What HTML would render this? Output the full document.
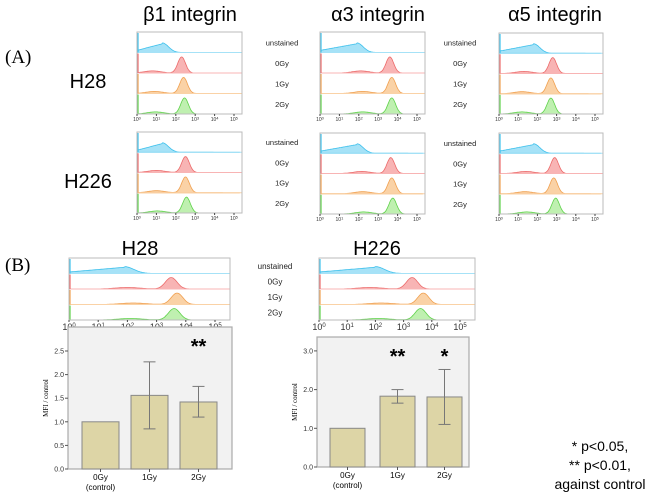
<!DOCTYPE html>
<html><head><meta charset="utf-8"><style>
body{margin:0;background:#fff;}
svg{display:block;font-family:"Liberation Sans",sans-serif;}
</style></head><body>
<svg id="fig" width="650" height="499" viewBox="0 0 650 499" xmlns="http://www.w3.org/2000/svg">
<text x="5" y="63" font-family="Liberation Serif,serif" font-size="19">(A)</text>
<text x="5" y="271" font-family="Liberation Serif,serif" font-size="19">(B)</text>
<text x="190" y="21" font-size="20" text-anchor="middle">β1 integrin</text>
<text x="378" y="21" font-size="20" text-anchor="middle">α3 integrin</text>
<text x="555" y="21" font-size="20" text-anchor="middle">α5 integrin</text>
<text x="88" y="88" font-size="20" text-anchor="middle">H28</text>
<text x="88" y="188" font-size="20" text-anchor="middle">H226</text>
<text x="140" y="255" font-size="20" text-anchor="middle">H28</text>
<text x="377" y="255" font-size="20" text-anchor="middle">H226</text>
<g font-size="14" text-anchor="middle">
<text x="600" y="451">* p&lt;0.05,</text>
<text x="600" y="470">** p&lt;0.01,</text>
<text x="600" y="489">against control</text>
</g>
<g id="dyn"></g>
</svg>
<script>
// Histogram peak positions (log decades) per row: unstained, 0Gy, 1Gy, 2Gy
const rowLabels = ["unstained","0Gy","1Gy","2Gy"];
const b1H28Peaks = [1.3, 2.3, 2.4, 2.45];
const b1H226Peaks = [1.3, 2.5, 2.5, 2.55];
const a3H28Peaks = [1.9, 3.6, 3.7, 3.7];
const a3H226Peaks = [1.9, 3.65, 3.7, 3.75];
const a5H28Peaks = [1.8, 2.8, 2.7, 2.7];
const a5H226Peaks = [1.8, 2.9, 2.85, 2.95];
const bH28Peaks = [1.9, 3.5, 3.7, 3.6];
const bH226Peaks = [2.0, 3.3, 3.7, 3.6];
// Bar charts
const barCats = ["0Gy","1Gy","2Gy"];
const h28Means = [1.0, 1.56, 1.42];
const h28Lo = [1.0, 0.85, 1.10];
const h28Hi = [1.0, 2.27, 1.75];
const h28Sig = ["", "", "**"];
const h28Ticks = [0,0.5,1.0,1.5,2.0,2.5];
const h226Means = [1.0, 1.83, 1.81];
const h226Lo = [1.0, 1.65, 1.10];
const h226Hi = [1.0, 2.00, 2.52];
const h226Sig = ["", "**", "*"];
const h226Ticks = [0,1.0,2.0,3.0];

const NS="http://www.w3.org/2000/svg";
const root=document.getElementById('dyn');
function mk(tag,attrs,parent){const e=document.createElementNS(NS,tag);for(const k in attrs)e.setAttribute(k,attrs[k]);(parent||root).appendChild(e);return e;}
const cols=[["#3cc0ec","#a6e2f7"],["#ec6a6a","#f8b4b4"],["#f0a050","#fad2a6"],["#5fd24a","#bff0b0"]];

function hist(name,x0,y0,w,h,peaks,big,labelX){
  const g=mk('g',{});
  
  
  const rh=h/4, span=(w-(big?15:8))/5;
  const xs=d=>x0+d*span;
  peaks.forEach((p,i)=>{
    const base=y0+(i+1)*rh;
    const wid = i===0?0.45:0.28;
    let pts=[[x0,base]];
    for(let d=0;d<=5.3;d+=0.04){
      let v;
      if(i===0){ v = d<p ? 0.12+0.38*(d/p) : 0.55*Math.exp(-Math.pow((d-p)/wid,2)); }
      else { v = 0.92*Math.exp(-Math.pow((d-p)/wid,2)) + 0.12*Math.exp(-Math.pow((d-(p-1.5))/0.6,2)); }
      pts.push([xs(d), base-v*(rh-3)]);
    }
    pts.push([xs(5.3),base]);
    const path=mk('path',{d:'M'+pts.map(q=>q[0].toFixed(1)+','+q[1].toFixed(1)).join('L')+'Z',fill:cols[i][1],stroke:cols[i][0],'stroke-width':0.8},g);
    
    
    mk('line',{x1:x0,x2:x0+w,y1:base,y2:base,stroke:cols[i][1],'stroke-width':1},g);
    mk('line',{x1:x0+0.8,x2:x0+0.8,y1:y0+i*rh+1,y2:base,stroke:cols[i][0],'stroke-width':1.6},g);
    if(labelX){const t=mk('text',{x:labelX,y:y0+i*rh+rh/2+3,'font-size':big?8:7.5,'text-anchor':'middle',fill:'#222'},g);t.textContent=rowLabels[i];
      }
  });
  mk('rect',{x:x0,y:y0,width:w,height:h,fill:'none',stroke:'#bbb','stroke-width':1},g);
  for(let k=0;k<=5;k++){
    mk('line',{x1:xs(k),x2:xs(k),y1:y0+h,y2:y0+h+2,stroke:'#444'},g);
    const t=mk('text',{x:xs(k),y:y0+h+(big?10:7),'font-size':big?9:5,'text-anchor':'middle',fill:'#333'},g);
    t.textContent='10';
    const s=mk('tspan',{dy:big?-3:-1.5,'font-size':big?6:4},t);s.textContent=k;
  }
}
hist('beta1-h28-hist',137,32,105,82,b1H28Peaks,false,282);
hist('beta1-h226-hist',137,132,105,81,b1H226Peaks,false,282);
hist('alpha3-h28-hist',320,32,105,82,a3H28Peaks,false,460);
hist('alpha3-h226-hist',320,133,105,81,a3H226Peaks,false,460);
hist('alpha5-h28-hist',499,33,104,81,a5H28Peaks,false,null);
hist('alpha5-h226-hist',499,133,104,81,a5H226Peaks,false,null);
hist('h28-b-hist',69,258,161,62,bH28Peaks,true,275);
hist('h226-b-hist',319,258,156,62,bH226Peaks,true,null);

function bars(name,fx,fy,fw,fh,y0px,unit,means,lo,hi,sig,ticks,barX,barW){
  const g=mk('g',{});
  
  
  mk('rect',{x:fx,y:fy,width:fw,height:fh,fill:'#f2f2f2',stroke:'#aaa','stroke-width':1.2},g);
  const ys=v=>y0px-v*unit;
  ticks.forEach(t=>{
    mk('line',{x1:fx-3,x2:fx,y1:ys(t),y2:ys(t),stroke:'#555'},g);
    const tx=mk('text',{x:fx-4,y:ys(t)+2.5,'font-size':7,'text-anchor':'end',fill:'#333'},g);
    tx.textContent=t.toFixed(1);
  });
  const yl=mk('text',{transform:`translate(${fx-20},${(fy+fy+fh)/2}) rotate(-90)`,'font-size':7,'font-family':'Liberation Serif,serif','text-anchor':'middle'},g);
  yl.textContent='MFI / control';
  
  means.forEach((m,i)=>{
    const bx=barX[i];
    const r=mk('rect',{x:bx,y:ys(m),width:barW,height:ys(0)-ys(m),fill:'#ddd5a6',stroke:'#888','stroke-width':1},g);
    
    
    const cx=bx+barW/2;
    if(hi[i]!==lo[i]){
      mk('line',{x1:cx,x2:cx,y1:ys(hi[i]),y2:ys(lo[i]),stroke:'#777'},g);
      mk('line',{x1:cx-6,x2:cx+6,y1:ys(hi[i]),y2:ys(hi[i]),stroke:'#777'},g);
      mk('line',{x1:cx-6,x2:cx+6,y1:ys(lo[i]),y2:ys(lo[i]),stroke:'#777'},g);
    }
    mk('line',{x1:cx,x2:cx,y1:fy+fh,y2:fy+fh+3,stroke:'#555'},g);
    const t=mk('text',{x:cx,y:fy+fh+11,'font-size':8,'text-anchor':'middle'},g);
    t.textContent=barCats[i];
    if(i===0){const t2=mk('text',{x:cx,y:fy+fh+21,'font-size':8,'text-anchor':'middle'},g);t2.textContent='(control)';}
    if(sig[i]){const s=mk('text',{x:cx,y:fy+26,'font-size':20,'text-anchor':'middle','font-weight':'bold'},g);s.textContent=sig[i];
      }
  });
}
bars('h28-bar-chart',68,327,164,142,469,47.2,h28Means,h28Lo,h28Hi,h28Sig,h28Ticks,[82,131,180],37);
bars('h226-bar-chart',317,337,152,130,467,38.7,h226Means,h226Lo,h226Hi,h226Sig,h226Ticks,[330,380,427],35);
</script>
</body></html>
